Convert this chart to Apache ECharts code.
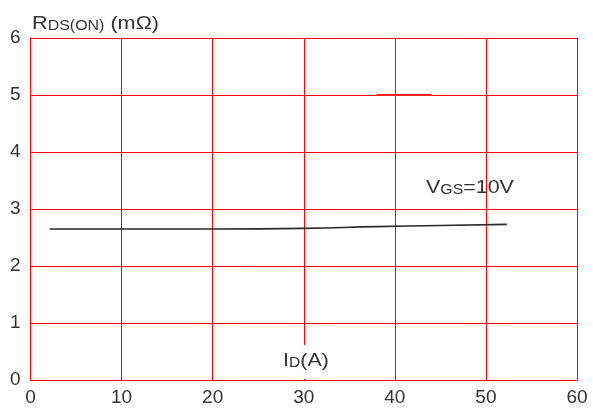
<!DOCTYPE html>
<html>
<head>
<meta charset="utf-8">
<script src="https://cdn.jsdelivr.net/npm/echarts@6/dist/echarts.min.js"></script>
<style>html,body{margin:0;padding:0;background:#fff}#c{width:593px;height:408px}</style>
</head>
<body>
<div id="c"></div>
<script>
var xTicks = [0, 10, 20, 30, 40, 50, 60];
var yTicks = [0, 1, 2, 3, 4, 5, 6];
var rdsCurve = [[2.1, 2.65], [10, 2.65], [20, 2.65], [30, 2.66], [38, 2.69], [45, 2.71], [52.3, 2.73]];
var markSegment = [[38, 5], [44, 5]];

var chart = echarts.init(document.getElementById('c'), null, {renderer: 'canvas'});
var FONT = 'Liberation Sans, Arial, sans-serif';
function richStyle(text, extra) {
  var s = {text: text, fontFamily: FONT, fill: '#333',
    rich: {a: {fontSize: 19, fontFamily: FONT, fill: '#333', verticalAlign: 'bottom', lineHeight: 24},
           b: {fontSize: 14, fontFamily: FONT, fill: '#333', verticalAlign: 'bottom', lineHeight: 22}}};
  for (var k in extra) s[k] = extra[k];
  return s;
}
chart.setOption({
  animation: false,
  backgroundColor: '#fff',
  grid: {left: 30.5, right: 16, top: 38, bottom: 28},
  xAxis: {
    type: 'value', min: 0, max: 60, interval: 10,
    axisLine: {show: true, lineStyle: {color: '#ff0000', width: 1}},
    axisTick: {show: false},
    splitLine: {show: true, lineStyle: {color: '#ff0000', width: 1}},
    axisLabel: {color: '#333', fontSize: 19, fontFamily: FONT, margin: 8,
      formatter: function (v) { return xTicks.indexOf(v) >= 0 ? String(v) : ''; }}
  },
  yAxis: {
    type: 'value', min: 0, max: 6, interval: 1,
    axisLine: {show: true, lineStyle: {color: '#ff0000', width: 1}},
    axisTick: {show: false},
    splitLine: {show: true, lineStyle: {color: '#ff0000', width: 1}},
    axisLabel: {color: '#333', fontSize: 19, fontFamily: FONT, margin: 10,
      formatter: function (v) { return yTicks.indexOf(v) >= 0 ? String(v) : ''; }}
  },
  series: [
    {type: 'line', data: rdsCurve, smooth: true, showSymbol: false, symbol: 'none',
      lineStyle: {color: '#2a2a2a', width: 1.6}, z: 3},
    {type: 'line', data: markSegment, showSymbol: false, symbol: 'none',
      lineStyle: {color: '#ff2020', width: 2}, z: 2}
  ],
  graphic: [
    {type: 'text', x: 32, y: 9, scaleX: 1.14, z: 10,
      style: richStyle('{a|R}{b|DS(ON)}{a| (mΩ)}', {})},
    {type: 'text', x: 426, y: 173, scaleX: 1.13, z: 10,
      style: richStyle('{a|V}{b|GS}{a|=10V}', {})},
    {type: 'text', x: 282, y: 345, scaleX: 1.12, z: 10,
      style: richStyle('{a|I}{b|D}{a|(A)}', {backgroundColor: '#fff', padding: [1, 1, 9, 1]})}
  ]
});
</script>
</body>
</html>
